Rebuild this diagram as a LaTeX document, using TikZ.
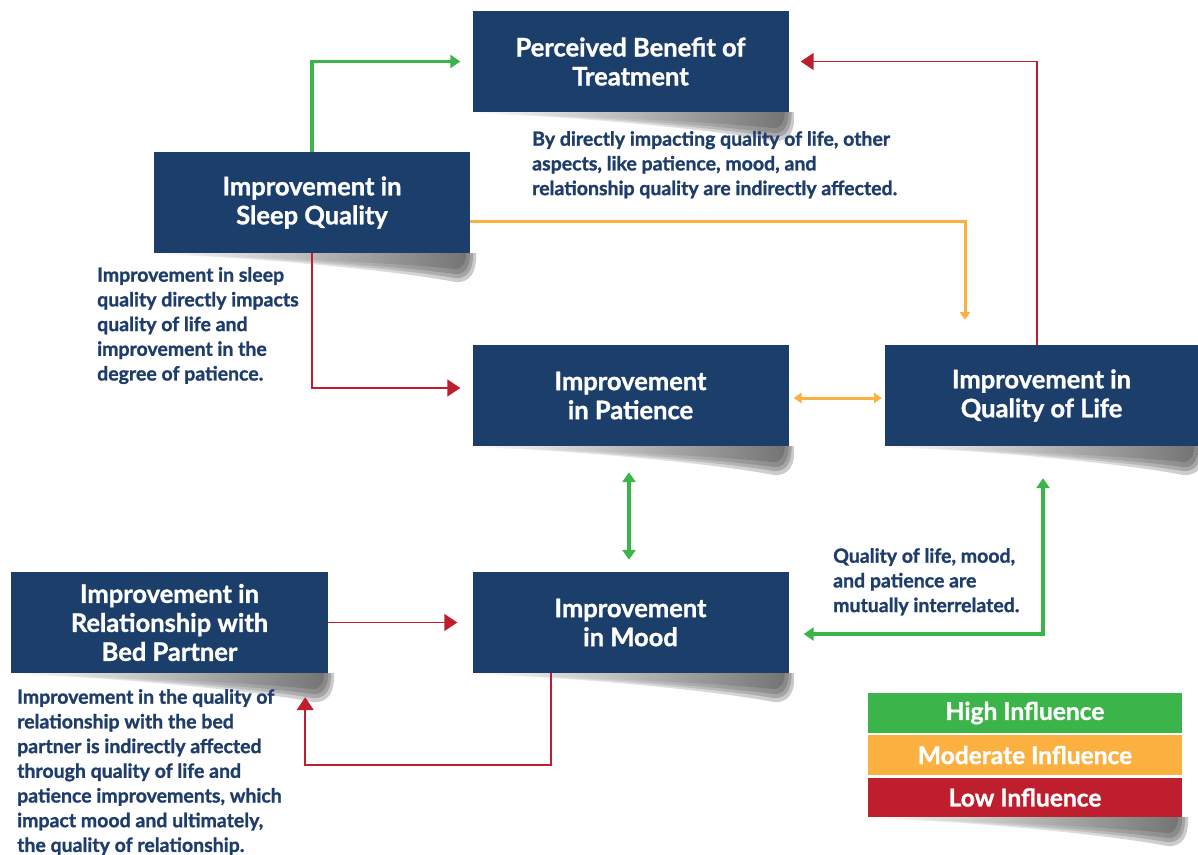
\documentclass[tikz,border=0pt]{standalone}
\usepackage{fontspec}
\setmainfont{Lato}[BoldFeatures={FakeBold=1.2}]
\usetikzlibrary{calc,arrows.meta}
\definecolor{navy}{HTML}{1B3F6A}
\definecolor{notec}{HTML}{1F3D6B}
\definecolor{hig}{HTML}{3BB54A}
\definecolor{modo}{HTML}{FBB040}
\definecolor{lowr}{HTML}{BE1E2D}
\newcommand\myshadowpart[3]{%
  \shade[left color=white, right color=black!75, opacity=0.28]
    (#1.south west) -- ($(#1.south east)+(#2,0)$)
    .. controls ($(#1.south east)+(#2,#3*0.7)$) and ($(#1.south east)+(#2-6,#3)$) .. ($(#1.south east)+(-14,#3)$)
    .. controls ($(#1.south east)+(-80,#3*0.55)$) and ($(#1.south west)+(80,3)$) .. ($(#1.south west)+(0,1)$) -- cycle;}
\newcommand\myshadow[1]{%
  \myshadowpart{#1}{6}{29}\myshadowpart{#1}{3}{25}\myshadowpart{#1}{0}{21}\myshadowpart{#1}{-4}{16}}
\begin{document}
\begin{tikzpicture}[x=1pt,y=-1pt,
  box/.style={fill=navy, text=white, minimum width=316pt, minimum height=101pt, inner sep=0pt,
    align=center, font=\fontsize{25.5}{29}\selectfont\bfseries},
  note/.style={text=notec, anchor=north west, inner sep=0pt, align=left,
    font=\fontsize{19.5}{24.7}\selectfont\bfseries},
  leg/.style={minimum width=314pt, inner sep=0pt, text=white, font=\fontsize{24.5}{26}\selectfont\bfseries},
  hiar/.style={draw=hig, line width=3.8pt},
  moar/.style={draw=modo, line width=3pt},
  loar/.style={draw=lowr, line width=1.5pt},
  tip/.style={-{Triangle[width=#1*3.4pt,length=#1*2.6pt]}},
  btip/.style={{Triangle[width=#1*3.4pt,length=#1*2.6pt]}-{Triangle[width=#1*3.4pt,length=#1*2.6pt]}},
]
\useasboundingbox (0,0) rectangle (1198,854);
\fill[white] (0,0) rectangle (1198,854);

% node placement (centers)
\path (630.5,61.5) node[box, opacity=0] (perc) {};
\path (312,202.5) node[box, opacity=0] (sleep) {};
\path (630.5,395.5) node[box, opacity=0] (pat) {};
\path (1041.5,395.5) node[box, opacity=0, minimum width=313pt] (qol) {};
\path (630.5,622.5) node[box, opacity=0] (mood) {};
\path (169.5,622.5) node[box, opacity=0, minimum width=317pt] (rel) {};
\path (1025,713) node[leg, minimum height=40pt, opacity=0] (lgh) {};
\path (1025,755) node[leg, minimum height=40pt, opacity=0] (lgm) {};
\path (1025,797.5) node[leg, minimum height=39pt, opacity=0] (lgl) {};

% shadows
\myshadow{perc}
\myshadow{sleep}
\myshadow{pat}
\myshadow{qol}
\myshadow{mood}
\myshadow{rel}
\myshadow{lgl}

% boxes
\node[box] at (perc) {Perceived Benefit of\\Treatment};
\node[box] at (sleep) {Improvement in\\Sleep Quality};
\node[box] at (pat) {Improvement\\in Patience};
\node[box, minimum width=313pt] at (qol) {Improvement in\\Quality of Life};
\node[box] at (mood) {Improvement\\in Mood};
\node[box, minimum width=317pt] at (rel) {Improvement in\\Relationship with\\Bed Partner};

% legend
\node[leg, fill=hig, minimum height=40pt] at (lgh) {High Influence};
\node[leg, fill=modo, minimum height=40pt] at (lgm) {Moderate Influence};
\node[leg, fill=lowr, minimum height=39pt] at (lgl) {Low Influence};

% connectors
\draw[hiar, tip=3.8, shorten >=12pt] (sleep.north) |- (perc.west);
\draw[moar, tip=3, shorten >=25pt] ([yshift=-18.5pt]sleep.east) -| ([xshift=-76.5pt]qol.north);
\draw[loar, tip=5, shorten >=12pt] ([xshift=-4.5pt]qol.north) |- (perc.east);
\draw[loar, tip=5, shorten >=12pt] (sleep.south) |- ([yshift=7.5pt]pat.west);
\draw[moar, btip=3, shorten <=5pt, shorten >=3pt] ([yshift=-2.5pt]pat.east) -- ([yshift=-2.5pt]qol.west);
\draw[hiar, btip=3.8, shorten <=26pt, shorten >=12pt] ([xshift=-1.5pt]pat.south) -- ([xshift=-1.5pt]mood.north);
\draw[hiar, btip=3.8, shorten <=15pt, shorten >=32pt] ([yshift=-11.5pt]mood.east) -| ([xshift=1.5pt]qol.south);
\draw[loar, tip=5, shorten >=15pt] (rel.east) -- (mood.west);
\coordinate (loopc) at (551,765);
\draw[loar, tip=5, shorten >=24pt] ([xshift=-79.5pt]mood.south) -- (loopc) -| ([xshift=-23pt]rel.south east);

% notes
\node[note] (n1) at (532,131) {By directly impacting quality of life, other\\aspects, like patience, mood, and\\relationship quality are indirectly affected.};
\node[note] (n2) at (97,267) {Improvement in sleep\\quality directly impacts\\quality of life and\\improvement in the\\degree of patience.};
\node[note] (n3) at (833,548) {Quality of life, mood,\\and patience are\\mutually interrelated.};
\node[note] (n4) at (17,689) {Improvement in the quality of\\relationship with the bed\\partner is indirectly affected\\through quality of life and\\patience improvements, which\\impact mood and ultimately,\\the quality of relationship.};
\end{tikzpicture}
\end{document}
